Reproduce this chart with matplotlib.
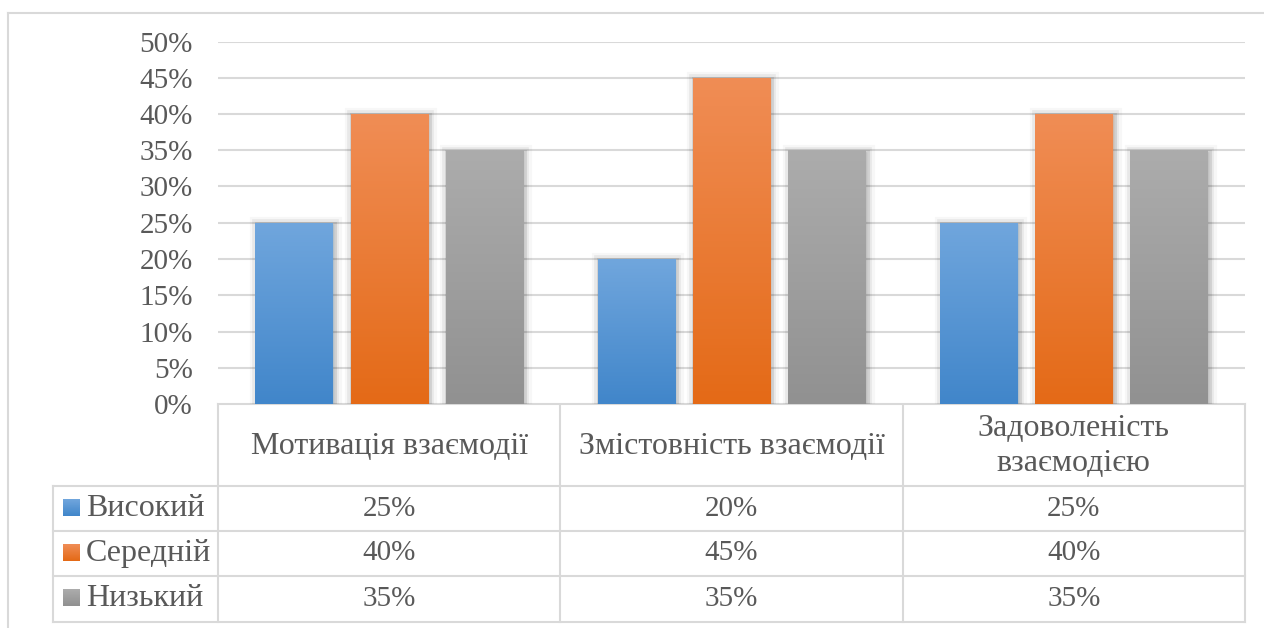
import matplotlib.pyplot as plt
import matplotlib.patheffects as pe
import numpy as np
from matplotlib.colors import LinearSegmentedColormap

# data
categories = ['Мотивація взаємодії', 'Змістовність взаємодії', 'Задоволеність\nвзаємодією']
series = ['Високий', 'Середній', 'Низький']
high = [0.25, 0.20, 0.25]
mid = [0.40, 0.45, 0.40]
low = [0.35, 0.35, 0.35]
values = [high, mid, low]

# top / bottom gradient colours per series
grad = [('#70a6dd', '#4186ca'), ('#f08d55', '#e46a17'), ('#acacac', '#919191')]

W, H = 1264, 628
TXT = '#595959'
LINE = '#d9d9d9'
plt.rcParams['font.family'] = ['Liberation Serif', 'DejaVu Serif']

fig = plt.figure(figsize=(W / 100, H / 100), dpi=100)

# background layer in pixel coords for frame and table
bg = fig.add_axes([0, 0, 1, 1])
bg.set_xlim(0, W)
bg.set_ylim(H, 0)
bg.axis('off')

# outer chart frame (only top and left visible)
bg.plot([7.5, W], [12.5, 12.5], color=LINE, lw=1.5)
bg.plot([7.5, 7.5], [12.5, H], color=LINE, lw=1.5)

# plot area
x0, x1 = 218, 1245
y_top, y_bot = 41.5, 404
ax = fig.add_axes([x0 / W, 1 - y_bot / H, (x1 - x0) / W, (y_bot - y_top) / H])
ax.set_xlim(-0.5, len(categories) - 0.5)
ax.set_ylim(0, 0.5)
yt = np.arange(0, 0.51, 0.05)
ax.set_yticks(yt)
ax.set_yticklabels([f'{int(round(v * 100))}%' for v in yt], fontsize=21, color=TXT)
ax.tick_params(axis='y', length=0, pad=18)
ax.set_xticks([])
for s in ax.spines.values():
    s.set_visible(False)
ax.grid(axis='y', color=LINE, lw=1.5)
ax.set_axisbelow(True)

bw = 0.225
step = 0.278
x = np.arange(len(categories))
for i, vals in enumerate(values):
    bars = ax.bar(x + (i - 1) * step, vals, width=bw, color=grad[i][1], zorder=3,
                  path_effects=[
                      pe.Stroke(linewidth=11, foreground='#000000', alpha=0.03, offset=(1, -1)),
                      pe.Stroke(linewidth=7, foreground='#000000', alpha=0.06, offset=(1, -1)),
                      pe.Stroke(linewidth=3.5, foreground='#000000', alpha=0.10, offset=(1, -1)),
                      pe.Normal()])
    cmap = LinearSegmentedColormap.from_list('g%d' % i, [grad[i][1], grad[i][0]])
    for b in bars:
        bx, by = b.get_x(), b.get_y()
        im = ax.imshow(np.linspace(0, 1, 100).reshape(-1, 1), cmap=cmap, aspect='auto',
                       origin='lower', extent=[bx, bx + b.get_width(), by, by + b.get_height()],
                       zorder=4)
        im.set_clip_path(b)
ax.set_xlim(-0.5, len(categories) - 0.5)
ax.set_ylim(0, 0.5)

# data table
col_w = (x1 - x0) / len(categories)
leg_x = 53
rows_y = [404, 486, 531, 576, 622]
lw = 1.5
bg.plot([x0, x1], [rows_y[0], rows_y[0]], color=LINE, lw=lw)
for yy in rows_y[1:]:
    bg.plot([leg_x, x1], [yy, yy], color=LINE, lw=lw)
bg.plot([leg_x, leg_x], [rows_y[1], rows_y[-1]], color=LINE, lw=lw)
for k in range(len(categories) + 1):
    xx = x0 + k * col_w
    bg.plot([xx, xx], [rows_y[0], rows_y[-1]], color=LINE, lw=lw)

for k, cat in enumerate(categories):
    cx = x0 + (k + 0.5) * col_w
    bg.text(cx, (rows_y[0] + rows_y[1]) / 2 + 1, cat, ha='center', va='center',
            fontsize=23, color=TXT, linespacing=1.25)

for i, name in enumerate(series):
    cy = (rows_y[i + 1] + rows_y[i + 2]) / 2
    # legend key with gradient
    key = np.linspace(1, 0, 20).reshape(-1, 1)
    kc = LinearSegmentedColormap.from_list('k%d' % i, [grad[i][1], grad[i][0]])
    bg.imshow(key, cmap=kc, extent=[63, 80, cy + 7.5, cy - 9.5], aspect='auto', zorder=3)
    bg.text(86, cy, name, ha='left', va='center', fontsize=23, color=TXT)
    for k in range(len(categories)):
        cx = x0 + (k + 0.5) * col_w
        bg.text(cx, cy, f'{int(round(values[i][k] * 100))}%', ha='center', va='center',
                fontsize=21, color=TXT)
bg.set_xlim(0, W)
bg.set_ylim(H, 0)

fig.savefig('out.png', dpi=100)
